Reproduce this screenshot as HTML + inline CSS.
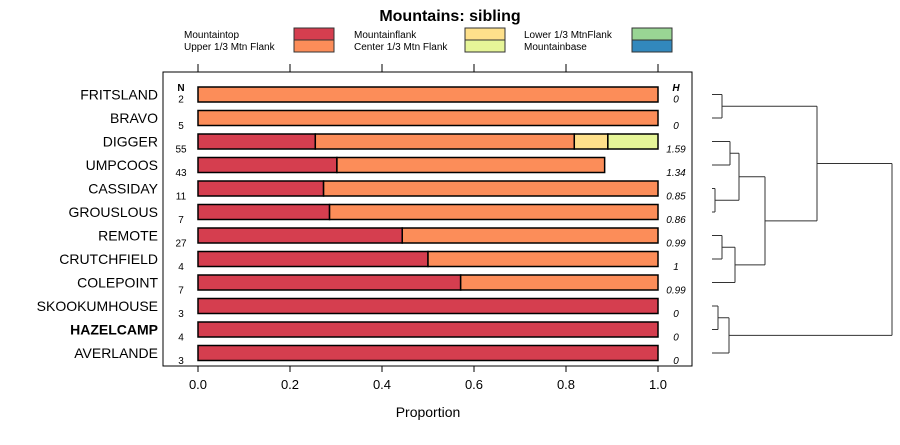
<!DOCTYPE html>
<html><head><meta charset="utf-8"><style>
body{margin:0;background:#fff;font-family:"Liberation Sans",sans-serif}
svg text{font-family:"Liberation Sans",sans-serif}
</style></head><body>
<svg id="c" width="900" height="440" xmlns="http://www.w3.org/2000/svg">
<text x="450" y="21" text-anchor="middle" font-size="16" font-weight="bold">Mountains: sibling</text>
<g id="legend"></g>
<rect x="163" y="72" width="529" height="294" fill="none" stroke="#000"/>
<g id="plot"></g>
<g id="dend" stroke="#333" fill="none" stroke-width="1"></g>
<text x="428" y="417" text-anchor="middle" font-size="14">Proportion</text>
</svg>
<script>
const sites=["FRITSLAND","BRAVO","DIGGER","UMPCOOS","CASSIDAY","GROUSLOUS","REMOTE","CRUTCHFIELD","COLEPOINT","SKOOKUMHOUSE","HAZELCAMP","AVERLANDE"];
const nVals=[2,5,55,43,11,7,27,4,7,3,4,3];
const hVals=["0","0","1.59","1.34","0.85","0.86","0.99","1","0.99","0","0","0"];
const catNames=["Mountaintop","Upper 1/3 Mtn Flank","Mountainflank","Center 1/3 Mtn Flank","Lower 1/3 MtnFlank","Mountainbase"];
const catColors=["#d53e4f","#fc8d59","#fee08b","#e6f598","#99d594","#3288bd"];
const mountaintop=[0,0,0.255,0.302,0.273,0.286,0.444,0.5,0.571,1,1,1];
const upperFlank=[1,1,0.563,0.582,0.727,0.714,0.556,0.5,0.429,0,0,0];
const mountainflank=[0,0,0.073,0,0,0,0,0,0,0,0,0];
const centerFlank=[0,0,0.109,0,0,0,0,0,0,0,0,0];
const lowerFlank=[0,0,0,0,0,0,0,0,0,0,0,0];
const mountainbase=[0,0,0,0,0,0,0,0,0,0,0,0];
const ticks=[0,0.2,0.4,0.6,0.8,1.0];
const tickLabels=["0.0","0.2","0.4","0.6","0.8","1.0"];
const series=[mountaintop,upperFlank,mountainflank,centerFlank,lowerFlank,mountainbase];
const NS="http://www.w3.org/2000/svg";
const X=v=>198+v*460;
const Y=i=>94.5+i*23.5;
function mk(tag,attrs,parent,txt){const e=document.createElementNS(NS,tag);for(const k in attrs)e.setAttribute(k,attrs[k]);if(txt!==undefined)e.textContent=txt;parent.appendChild(e);return e;}
const lg=document.getElementById('legend');
const lgx=[184,354,524],boxx=[294,465,632];
catNames.forEach((n,k)=>{const col=Math.floor(k/2),row=k%2;
 const t=mk('text',{x:lgx[col],y:38+row*12,'font-size':10},lg,n);
 
 
 const r=mk('rect',{x:boxx[col],y:28+row*12,width:40,height:12,fill:catColors[k],stroke:'#333'},lg);
 
 
});
const p=document.getElementById('plot');
ticks.forEach((t,k)=>{
 const l=mk('line',{x1:X(t),x2:X(t),y1:366,y2:372,stroke:'#000'},p);
 
 
 const l2=mk('line',{x1:X(t),x2:X(t),y1:64,y2:72,stroke:'#000'},p);
 
 
 const tx=mk('text',{x:X(t),y:389,'text-anchor':'middle','font-size':13},p,tickLabels[k]);
 
 
});
let hn=mk('text',{x:181,y:91,'text-anchor':'middle','font-size':10,'font-weight':'bold'},p,'N');

let hh=mk('text',{x:676,y:91,'text-anchor':'middle','font-size':10,'font-weight':'bold','font-style':'italic'},p,'H');

sites.forEach((s,i)=>{
 const y=Y(i);
 const lab=mk('text',{x:158,y:y+5,'text-anchor':'end','font-size':14,'font-weight':s==='HAZELCAMP'?'bold':'normal'},p,s);
 
 
 const nt=mk('text',{x:181,y:y+(i===0?8:11),'text-anchor':'middle','font-size':10},p,String(nVals[i]));
 
 
 const ht=mk('text',{x:676,y:y+(i===0?8:11),'text-anchor':'middle','font-size':10,'font-style':'italic'},p,hVals[i]);
 
 
 let cum=0;
 series.forEach((ser,k)=>{const v=ser[i];if(v>0){
  const r=mk('rect',{x:X(cum),y:y-7.5,width:X(cum+v)-X(cum),height:15,fill:catColors[k],stroke:'#000','stroke-width':1.5},p);
  
  
  cum+=v;}});
});
const d=document.getElementById('dend');
function seg(x1,y1,x2,y2){const l=mk('path',{d:`M${x1},${y1}L${x2},${y2}`},d);
 
 }
// merge(nodeA,nodeB,height) with nodes {x,y}
function merge(a,b,h){seg(a.x,a.y,h,a.y);seg(b.x,b.y,h,b.y);seg(h,a.y,h,b.y);return {x:h,y:(a.y+b.y)/2};}
const leaf=i=>({x:712,y:Y(i)});
const g1=merge(leaf(0),leaf(1),722);
const g2=merge(leaf(2),leaf(3),730);
const g3=merge(leaf(4),leaf(5),715);
const g23=merge(g2,g3,739);
const g4=merge(leaf(6),leaf(7),722);
const g45=merge(g4,leaf(8),735);
const gm=merge(g23,g45,765);
const gA=merge(g1,gm,817);
const g6=merge(leaf(9),leaf(10),718);
const g7=merge(g6,leaf(11),729);
merge(gA,g7,892);
</script>
</body></html>
